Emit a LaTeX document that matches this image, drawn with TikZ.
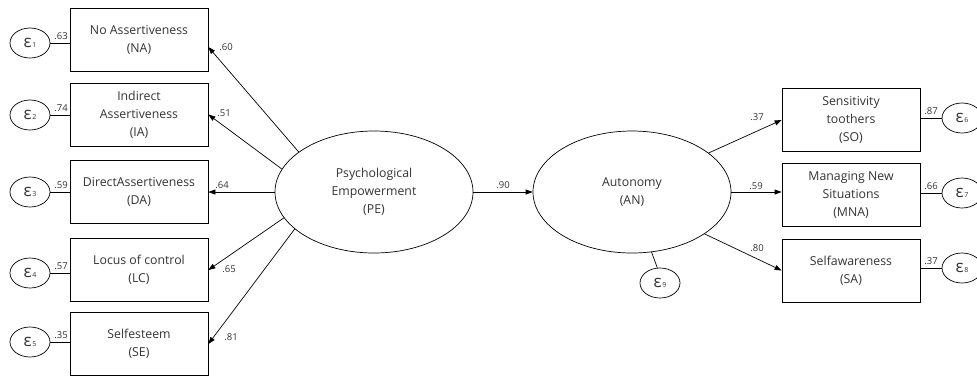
\documentclass[tikz,border=0pt]{standalone}
\usepackage{fontspec}
\setmainfont{Open Sans}
\usetikzlibrary{arrows.meta,shapes.geometric}
\definecolor{txt}{gray}{0.2}
\tikzset{
  every node/.style={text=txt},
  obs/.style={draw=black, line width=0.7pt, minimum width=138pt, minimum height=63pt, inner sep=0pt, align=center, font=\fontsize{12.3}{18}\selectfont},
  lat/.style={draw=black, line width=0.7pt, ellipse, minimum width=198pt, minimum height=122pt, inner sep=0pt, align=center, font=\fontsize{12.3}{18}\selectfont},
  err/.style={draw=black, line width=0.7pt, ellipse, minimum width=40pt, minimum height=30pt, inner sep=0pt, font=\fontsize{17}{17}\selectfont},
  lbl/.style={font=\fontsize{9.5}{9.5}\selectfont, inner sep=0pt},
  path/.style={draw=black, line width=0.7pt, -{Triangle[length=7pt,width=5pt]}},
  link/.style={draw=black, line width=0.7pt}
}
\newcommand{\eps}[1]{ε\kern0.5pt\raisebox{0pt}{\fontsize{7}{7}\selectfont #1}}
\begin{document}
\begin{tikzpicture}[x=1pt,y=-1pt]
\useasboundingbox (0,0) rectangle (977,376);
% left observed
\node[obs] (na) at (139,39.5) {No Assertiveness\\(NA)};
\node[obs] (ia) at (139,114.5) {Indirect\\Assertiveness\\(IA)};
\node[obs] (da) at (139,192) {DirectAssertiveness\\(DA)};
\node[obs] (lc) at (139,270) {Locus of control\\(LC)};
\node[obs] (se) at (139,344) {Selfesteem\\(SE)};
% left errors
\node[err] (e1) at (30,43) {\eps{1}};
\node[err] (e2) at (30,115) {\eps{2}};
\node[err] (e3) at (30,192) {\eps{3}};
\node[err] (e4) at (30,273) {\eps{4}};
\node[err] (e5) at (30,342) {\eps{5}};
% latents
\node[lat] (pe) at (374,192) {Psychological\\Empowerment\\(PE)};
\node[lat] (an) at (632,192) {Autonomy\\(AN)};
% right observed
\node[obs] (so) at (851,120) {Sensitivity\\toothers\\(SO)};
\node[obs] (mna) at (851,194.5) {Managing New\\Situations\\(MNA)};
\node[obs] (sa) at (851,270.5) {Selfawareness\\(SA)};
% right errors
\node[err] (e6) at (962,118) {\eps{6}};
\node[err] (e7) at (962,193) {\eps{7}};
\node[err] (e8) at (962,268) {\eps{8}};
\node[err] (e9) at (660,283) {\eps{9}};
% error links
\draw[link] (e1.east) -- (e1.east -| na.west);
\draw[link] (e2.east) -- (e2.east -| ia.west);
\draw[link] (e3.east) -- (e3.east -| da.west);
\draw[link] (e4.east) -- (e4.east -| lc.west);
\draw[link] (e5.east) -- (e5.east -| se.west);
\draw[link] (e6.west) -- (e6.west -| so.east);
\draw[link] (e7.west) -- (e7.west -| mna.east);
\draw[link] (e8.west) -- (e8.west -| sa.east);
\draw[link] (an.288) -- (e9.100);
% error labels
\node[lbl] at (61,36) {.63};
\node[lbl] at (61,108) {.74};
\node[lbl] at (61,185) {.59};
\node[lbl] at (61,266) {.57};
\node[lbl] at (61,335) {.35};
\node[lbl] at (931,111) {.87};
\node[lbl] at (931,186) {.66};
\node[lbl] at (931,261) {.37};
% structural paths
\draw[path] (pe.152) -- ([yshift=-7.5pt]na.east);
\draw[path] (pe.166) -- (ia.east);
\draw[path] (pe.west) -- (pe.west -| da.east);
\draw[path] (pe.196) -- (lc.east);
\draw[path] (pe.205) -- (se.east);
\draw[path] (pe.east) -- (an.west);
\draw[path] (an.27) -- (so.west);
\draw[path] (an.east) -- (an.east -| mna.west);
\draw[path] (an.330) -- (sa.west);
% path labels
\node[lbl] at (226,47) {.60};
\node[lbl] at (224,113) {.51};
\node[lbl] at (222,185) {.64};
\node[lbl] at (229,269) {.65};
\node[lbl] at (231,337) {.81};
\node[lbl] at (503,185) {.90};
\node[lbl] at (757,117) {.37};
\node[lbl] at (756,186) {.59};
\node[lbl] at (757,248) {.80};
\end{tikzpicture}
\end{document}
